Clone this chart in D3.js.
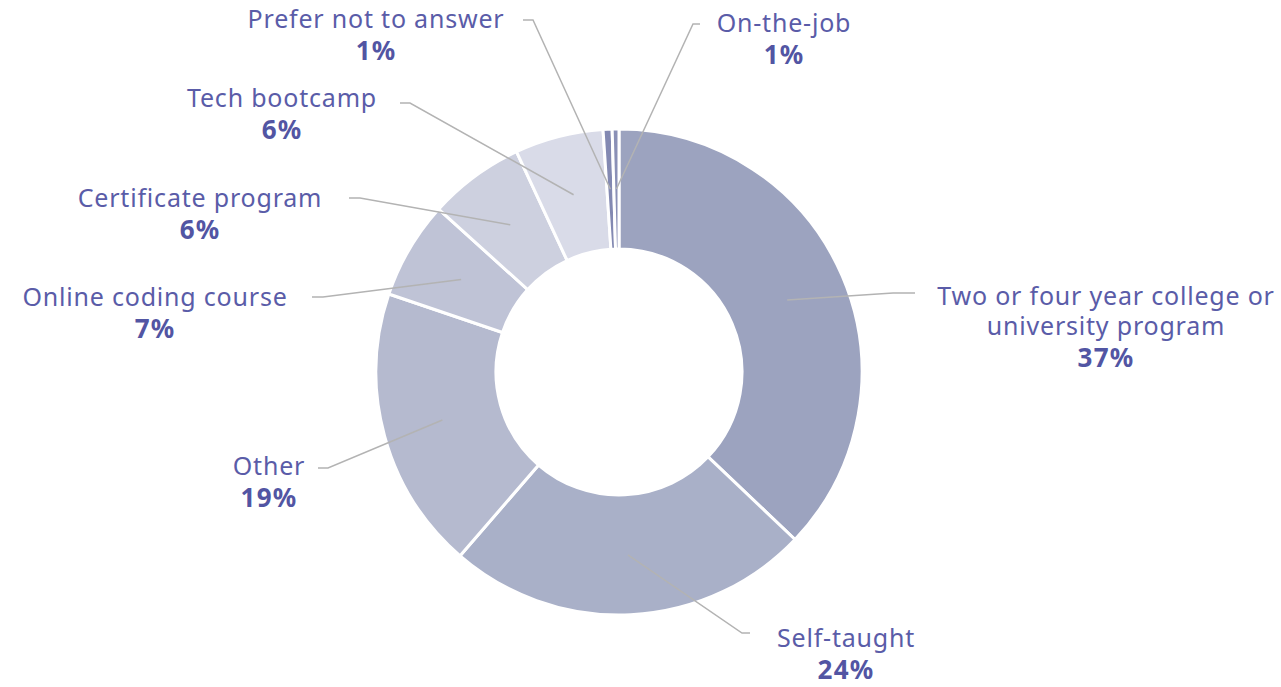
<!DOCTYPE html>
<html>
<head>
<meta charset="utf-8">
<script src="https://cdn.jsdelivr.net/npm/d3@7"></script>
<style>
  body { margin: 0; background: #fff; }
  text { font-family: "Noto Sans", sans-serif; }
</style>
</head>
<body>
<div id="chart"></div>
<script>
// chart data
const categories = [
  ["Two or four year college or", "university program"],
  ["Self-taught"],
  ["Other"],
  ["Online coding course"],
  ["Certificate program"],
  ["Tech bootcamp"],
  ["Prefer not to answer"],
  ["On-the-job"]
];
const values = [37.2, 24.3, 18.9, 6.5, 6.4, 5.9, 0.6, 0.45];
const percentLabels = ["37%", "24%", "19%", "7%", "6%", "6%", "1%", "1%"];
const colors = ["#9ca3bf", "#a9b0c8", "#b5bacf", "#bfc3d6", "#cdd0df", "#d9dbe8", "#8389b2", "#8a90b6"];

// layout: leader elbow, line end and label centre, relative to the donut centre
const labelLayout = [
  {elbow: [274, -79],  end: [296, -79],  label: [487, -67]},
  {elbow: [123, 261],  end: [131, 261],  label: [227, 275]},
  {elbow: [-291, 96],  end: [-301, 96],  label: [-350, 103]},
  {elbow: [-296, -75], end: [-307, -75], label: [-464, -66]},
  {elbow: [-259, -174], end: [-270, -174], label: [-419, -165]},
  {elbow: [-209, -269], end: [-219, -269], label: [-337, -265]},
  {elbow: [-86, -352], end: [-96, -352], label: [-243, -344]},
  {elbow: [74, -348],  end: [81, -348],  label: [165, -340]}
];

const width = 1281;
const height = 687;
const cx = 619, cy = 372;
const outerR = 243, innerR = 123;

const data = categories.map((c, i) => ({name: c, value: values[i], pct: percentLabels[i], color: colors[i], layout: labelLayout[i]}));

const svg = d3.select("#chart")
  .append("svg")
  .attr("width", width)
  .attr("height", height);

const g = svg.append("g")
  .attr("transform", `translate(${cx},${cy})`);

const pie = d3.pie()
  .value(d => d.value)
  .sort(null);

const arc = d3.arc()
  .innerRadius(innerR)
  .outerRadius(outerR);

const arcs = pie(data);

g.selectAll("path.slice")
  .data(arcs)
  .enter()
  .append("path")
  .attr("class", "slice")
  .attr("d", arc)
  .attr("fill", d => d.data.color)
  .attr("stroke", "#fff")
  .attr("stroke-width", 3);

// leader lines
g.selectAll("polyline.leader")
  .data(arcs)
  .enter()
  .append("polyline")
  .attr("class", "leader")
  .attr("points", d => [arc.centroid(d), d.data.layout.elbow, d.data.layout.end].map(p => p.join(",")).join(" "))
  .attr("fill", "none")
  .attr("stroke", "#b3b3b3")
  .attr("stroke-width", 1.5);

// labels
const labels = g.selectAll("text.label")
  .data(arcs)
  .enter()
  .append("text")
  .attr("class", "label")
  .attr("text-anchor", "middle")
  .attr("x", d => d.data.layout.label[0])
  .attr("y", d => d.data.layout.label[1]);

labels.each(function(d) {
  const t = d3.select(this);
  d.data.name.forEach((line, i) => {
    t.append("tspan")
      .attr("x", d.data.layout.label[0])
      .attr("dy", i === 0 ? 0 : 30)
      .attr("fill", "#5a5ca8")
      .attr("font-size", 25)
      .attr("letter-spacing", 0.8)
      .text(line);
  });
  t.append("tspan")
    .attr("x", d.data.layout.label[0])
    .attr("dy", 32)
    .attr("fill", "#5255a3")
    .attr("font-size", 26)
    .attr("font-weight", 700)
    .attr("letter-spacing", 1.2)
    .text(d.data.pct);
});
</script>
</body>
</html>
